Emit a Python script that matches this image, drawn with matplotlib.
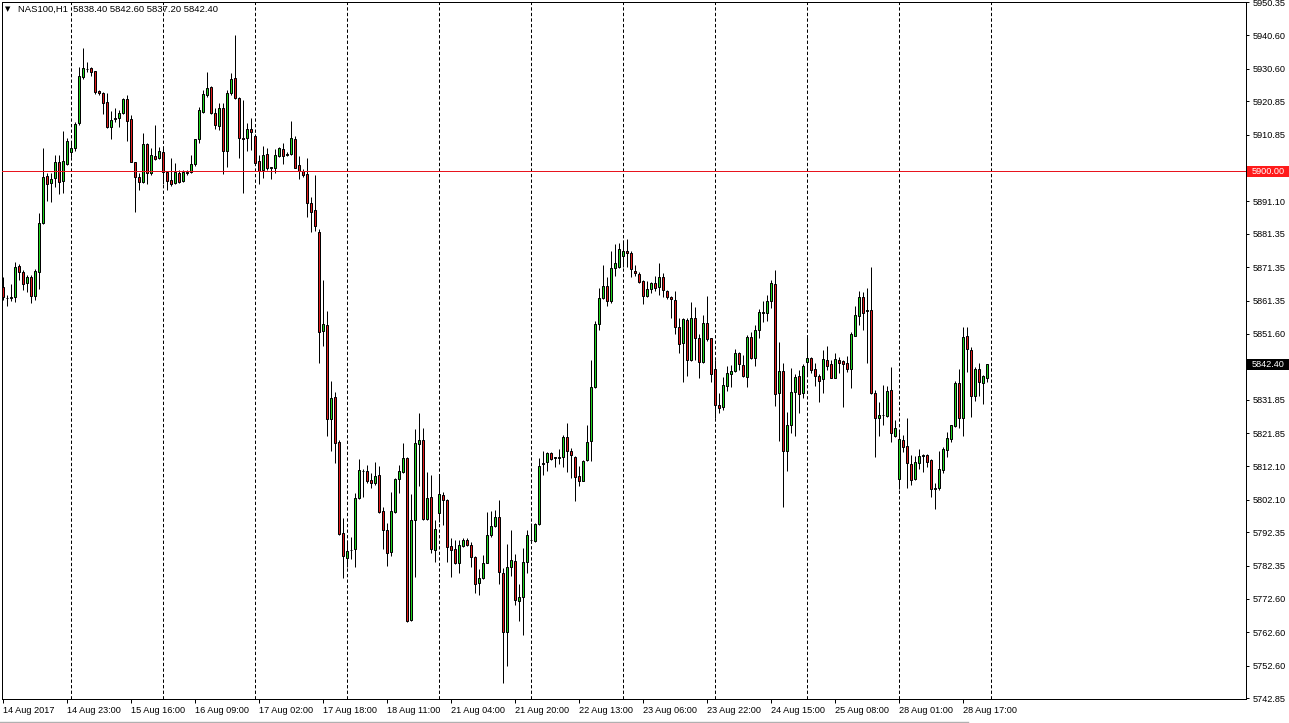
import matplotlib
matplotlib.use("Agg")
import matplotlib.pyplot as plt
import matplotlib.transforms as mtransforms
from matplotlib.patches import Rectangle
from matplotlib.lines import Line2D
import numpy as np

plt.rcParams['lines.scale_dashes'] = False
plt.rcParams['font.family'] = ['Liberation Sans', 'DejaVu Sans']

# ---------------- data (NAS100, H1) ----------------
opens = [5865.4, 5862.3, 5862.3, 5862.4, 5871.8, 5869.9, 5866.6, 5868.5, 5862.9, 5869.9,
         5884.5, 5898.6, 5896.4, 5897.9, 5902.7, 5897.0, 5902.1, 5905.9, 5906.9, 5914.3,
         5928.2, 5930.4, 5930.7, 5929.8, 5923.9, 5923.4, 5920.6, 5913.3, 5915.6, 5915.8,
         5917.5, 5921.5, 5915.5, 5902.9, 5898.2, 5896.9, 5908.0, 5899.4, 5904.6, 5903.9,
         5905.7, 5899.9, 5897.3, 5896.4, 5899.6, 5897.0, 5899.4, 5899.9, 5902.1, 5909.5,
         5917.8, 5922.6, 5925.0, 5917.3, 5913.6, 5918.8, 5906.2, 5923.3, 5927.7, 5921.8,
         5909.9, 5909.8, 5912.5, 5910.5, 5903.1, 5900.4, 5905.1, 5901.0, 5900.9, 5904.7,
         5906.7, 5905.0, 5905.1, 5909.6, 5901.9, 5900.1, 5899.1, 5890.4, 5888.5, 5882.0,
         5852.5, 5854.2, 5826.0, 5832.6, 5819.2, 5792.3, 5784.6, 5787.0, 5787.3, 5802.5,
         5810.5, 5810.6, 5808.0, 5807.2, 5809.4, 5798.7, 5793.2, 5786.4, 5798.5, 5808.4,
         5810.2, 5814.6, 5766.1, 5796.0, 5818.7, 5819.9, 5796.2, 5802.8, 5787.1, 5798.0,
         5803.5, 5802.0, 5788.3, 5787.3, 5783.1, 5788.4, 5790.1, 5788.6, 5784.9, 5777.3,
         5778.6, 5783.3, 5791.5, 5794.2, 5796.8, 5780.1, 5762.5, 5781.9, 5783.9, 5772.0,
         5773.0, 5783.6, 5790.0, 5789.9, 5794.7, 5812.7, 5813.2, 5815.9, 5814.5, 5814.5,
         5814.9, 5820.9, 5816.6, 5814.9, 5809.2, 5807.8, 5813.9, 5819.7, 5835.8, 5854.5,
         5862.3, 5865.9, 5861.4, 5871.1, 5871.4, 5874.7, 5876.3, 5875.5, 5870.4, 5869.3,
         5867.3, 5862.8, 5864.8, 5866.8, 5865.4, 5868.4, 5864.3, 5862.6, 5861.6, 5853.7,
         5848.7, 5855.7, 5843.7, 5856.2, 5850.2, 5843.0, 5854.7, 5850.2, 5841.0, 5830.3,
         5829.6, 5836.1, 5839.5, 5840.5, 5845.7, 5842.2, 5838.6, 5850.5, 5844.2, 5852.7,
         5857.9, 5857.9, 5861.3, 5866.4, 5833.8, 5840.5, 5816.7, 5824.4, 5834.1, 5839.0,
         5833.8, 5843.0, 5844.2, 5841.2, 5839.0, 5838.0, 5843.7, 5842.4, 5838.5, 5843.7,
         5843.4, 5842.7, 5841.2, 5851.0, 5857.0, 5862.4, 5858.3, 5858.6, 5833.8, 5826.3,
         5827.2, 5827.1, 5834.8, 5821.2, 5808.4, 5819.9, 5818.1, 5812.7, 5808.2, 5812.9,
         5815.1, 5815.4, 5813.9, 5805.4, 5805.5, 5810.9, 5816.9, 5820.1, 5824.0, 5837.0,
         5826.3, 5850.9, 5846.7, 5833.1, 5841.2, 5836.8, 5838.4]
highs = [5868.4, 5863.0, 5866.4, 5873.0, 5872.4, 5870.6, 5869.1, 5869.1, 5870.8, 5887.5,
         5907.0, 5899.4, 5899.4, 5904.9, 5904.9, 5912.1, 5909.8, 5908.8, 5914.8, 5931.0,
         5936.7, 5932.7, 5931.2, 5930.0, 5924.2, 5923.7, 5923.2, 5918.1, 5918.8, 5918.3,
         5921.8, 5922.7, 5916.8, 5902.9, 5899.4, 5911.3, 5908.3, 5906.9, 5913.8, 5907.1,
         5907.1, 5900.1, 5903.9, 5902.4, 5900.4, 5900.4, 5900.4, 5904.9, 5909.7, 5919.1,
         5924.3, 5929.7, 5925.4, 5918.8, 5920.3, 5920.3, 5924.3, 5929.2, 5940.7, 5922.3,
         5921.3, 5914.3, 5915.8, 5911.0, 5904.9, 5907.4, 5906.9, 5901.4, 5906.6, 5907.1,
         5908.3, 5905.9, 5915.0, 5910.5, 5904.6, 5900.6, 5904.1, 5892.4, 5898.9, 5882.7,
         5867.6, 5858.3, 5837.5, 5834.1, 5819.9, 5796.5, 5790.1, 5791.1, 5804.2, 5814.2,
         5811.1, 5812.4, 5810.1, 5813.4, 5812.1, 5800.0, 5795.2, 5804.5, 5808.7, 5812.4,
         5818.9, 5814.9, 5803.7, 5823.1, 5827.8, 5823.4, 5810.4, 5809.4, 5796.0, 5809.4,
         5804.5, 5802.2, 5790.6, 5790.1, 5790.1, 5790.6, 5790.6, 5789.6, 5785.3, 5781.3,
         5785.6, 5798.5, 5798.7, 5799.0, 5802.0, 5781.6, 5788.9, 5793.2, 5785.8, 5777.1,
         5787.6, 5793.0, 5795.0, 5795.0, 5814.4, 5816.6, 5816.2, 5816.2, 5814.9, 5817.1,
         5821.4, 5824.9, 5817.4, 5815.1, 5812.2, 5813.9, 5824.4, 5843.7, 5855.4, 5865.1,
         5872.1, 5868.4, 5876.2, 5878.3, 5878.5, 5879.5, 5879.7, 5876.3, 5872.1, 5869.9,
         5867.6, 5867.3, 5867.1, 5868.9, 5872.8, 5869.8, 5864.6, 5862.9, 5864.3, 5856.2,
         5856.2, 5856.2, 5861.1, 5859.4, 5851.5, 5857.2, 5862.8, 5850.4, 5843.7, 5834.0,
         5838.8, 5841.9, 5842.2, 5847.0, 5846.2, 5845.2, 5851.2, 5852.2, 5854.2, 5858.8,
         5861.4, 5863.1, 5867.6, 5870.6, 5849.2, 5842.9, 5828.3, 5841.3, 5839.6, 5840.8,
         5842.4, 5850.5, 5844.7, 5842.7, 5839.6, 5846.7, 5847.9, 5843.7, 5845.9, 5844.5,
         5843.7, 5844.9, 5852.2, 5859.8, 5864.3, 5864.1, 5865.3, 5871.6, 5834.8, 5831.1,
         5836.3, 5836.0, 5841.7, 5825.8, 5822.4, 5821.4, 5826.3, 5815.4, 5815.1, 5817.1,
         5815.7, 5815.7, 5814.1, 5807.2, 5816.6, 5817.7, 5822.4, 5824.5, 5837.6, 5841.0,
         5853.5, 5853.5, 5847.5, 5841.7, 5842.7, 5839.3, 5842.6]
lows = [5861.6, 5859.9, 5861.4, 5861.1, 5867.6, 5864.6, 5864.1, 5860.6, 5861.6, 5864.8,
        5884.3, 5891.1, 5890.9, 5895.4, 5893.1, 5893.4, 5901.9, 5904.4, 5906.2, 5913.8,
        5927.4, 5929.5, 5928.4, 5923.0, 5922.7, 5917.1, 5912.9, 5909.7, 5914.8, 5913.1,
        5917.1, 5909.1, 5902.7, 5888.0, 5894.4, 5896.4, 5896.2, 5898.9, 5903.4, 5903.6,
        5896.2, 5894.4, 5895.6, 5896.1, 5896.4, 5896.8, 5898.9, 5899.6, 5901.6, 5908.5,
        5917.3, 5922.3, 5917.1, 5912.5, 5912.3, 5899.2, 5901.4, 5922.8, 5921.6, 5903.9,
        5893.4, 5906.2, 5906.4, 5902.4, 5896.1, 5898.1, 5900.4, 5897.6, 5899.6, 5904.4,
        5902.2, 5904.6, 5904.9, 5900.9, 5897.6, 5898.4, 5886.3, 5882.0, 5882.3, 5842.7,
        5847.9, 5821.1, 5816.7, 5812.9, 5791.5, 5778.6, 5781.9, 5784.3, 5781.9, 5802.2,
        5803.0, 5807.2, 5805.5, 5806.5, 5798.2, 5787.3, 5782.3, 5785.3, 5798.0, 5804.0,
        5809.9, 5765.7, 5765.9, 5779.1, 5806.2, 5796.0, 5796.0, 5786.1, 5783.6, 5795.5,
        5794.5, 5783.6, 5779.1, 5782.9, 5780.1, 5788.1, 5788.2, 5781.9, 5774.4, 5773.7,
        5778.3, 5783.1, 5791.1, 5794.0, 5777.1, 5747.5, 5752.6, 5779.3, 5770.7, 5766.0,
        5761.7, 5780.3, 5789.6, 5789.6, 5794.5, 5809.6, 5810.7, 5813.9, 5811.7, 5812.7,
        5811.9, 5810.4, 5808.6, 5801.8, 5806.3, 5807.6, 5813.7, 5813.7, 5835.5, 5852.7,
        5861.9, 5859.8, 5860.8, 5868.8, 5871.1, 5871.6, 5871.6, 5868.6, 5868.9, 5866.6,
        5860.3, 5862.6, 5863.6, 5864.4, 5863.0, 5862.6, 5861.8, 5856.2, 5851.5, 5845.9,
        5837.3, 5839.1, 5843.5, 5843.7, 5838.3, 5842.9, 5849.5, 5837.3, 5826.3, 5827.8,
        5828.8, 5834.6, 5835.6, 5840.3, 5840.8, 5838.8, 5835.8, 5843.9, 5842.0, 5850.2,
        5855.2, 5855.5, 5859.1, 5830.1, 5819.7, 5799.8, 5810.7, 5822.1, 5821.2, 5828.0,
        5832.3, 5839.1, 5840.0, 5836.1, 5831.3, 5834.0, 5840.8, 5838.3, 5838.3, 5840.0,
        5829.6, 5840.3, 5835.5, 5850.8, 5854.2, 5852.7, 5842.9, 5833.6, 5814.7, 5821.2,
        5824.3, 5826.8, 5819.4, 5820.9, 5805.2, 5816.2, 5805.5, 5806.5, 5807.9, 5811.1,
        5810.4, 5811.9, 5802.8, 5799.2, 5805.0, 5810.1, 5814.7, 5819.4, 5823.8, 5823.4,
        5821.2, 5840.3, 5826.6, 5831.6, 5833.1, 5830.5, 5837.2]
closes = [5862.4, 5862.1, 5862.5, 5871.6, 5870.1, 5866.3, 5868.4, 5862.9, 5870.4, 5884.5,
          5898.2, 5896.1, 5897.6, 5902.7, 5896.9, 5903.0, 5908.9, 5906.9, 5914.0, 5928.4,
          5930.7, 5930.6, 5929.5, 5923.7, 5923.2, 5920.3, 5913.1, 5915.3, 5915.8, 5917.3,
          5921.5, 5915.1, 5902.9, 5898.4, 5896.9, 5908.0, 5899.4, 5904.8, 5903.7, 5906.0,
          5899.9, 5897.2, 5896.1, 5899.7, 5896.9, 5899.9, 5899.7, 5902.1, 5909.5, 5918.3,
          5923.0, 5924.7, 5917.3, 5913.7, 5918.8, 5906.2, 5923.3, 5927.4, 5921.8, 5909.8,
          5909.7, 5912.5, 5911.8, 5902.6, 5900.2, 5904.9, 5900.9, 5901.2, 5904.9, 5906.9,
          5904.7, 5905.1, 5909.8, 5901.1, 5900.2, 5898.8, 5890.5, 5888.0, 5883.8, 5852.2,
          5854.4, 5826.0, 5832.3, 5819.1, 5791.8, 5785.4, 5786.8, 5787.2, 5802.5, 5810.9,
          5810.7, 5807.8, 5807.2, 5809.1, 5798.5, 5793.2, 5786.3, 5798.7, 5808.4, 5810.6,
          5814.4, 5765.9, 5796.0, 5818.9, 5819.9, 5796.2, 5802.5, 5787.3, 5793.5, 5803.7,
          5802.0, 5787.9, 5787.1, 5783.3, 5788.6, 5790.1, 5788.6, 5784.9, 5777.1, 5778.6,
          5783.3, 5791.7, 5794.2, 5796.8, 5780.4, 5762.5, 5781.9, 5784.1, 5772.2, 5773.2,
          5783.4, 5791.6, 5790.2, 5794.7, 5812.2, 5812.9, 5815.9, 5814.1, 5814.7, 5814.7,
          5820.9, 5816.6, 5815.4, 5808.9, 5807.8, 5813.7, 5819.4, 5835.8, 5854.4, 5862.3,
          5865.9, 5861.4, 5871.1, 5872.6, 5876.7, 5876.3, 5875.5, 5870.8, 5869.6, 5866.9,
          5862.8, 5864.8, 5866.6, 5865.1, 5868.4, 5864.6, 5862.4, 5861.8, 5853.7, 5848.5,
          5855.9, 5843.7, 5856.2, 5850.2, 5843.2, 5854.7, 5849.9, 5839.5, 5830.3, 5829.3,
          5836.3, 5839.8, 5840.5, 5845.7, 5842.4, 5839.1, 5850.5, 5844.2, 5852.7, 5858.0,
          5858.1, 5861.3, 5866.8, 5833.5, 5840.5, 5816.6, 5824.4, 5834.1, 5838.8, 5833.5,
          5841.9, 5844.2, 5840.9, 5839.1, 5837.6, 5843.9, 5842.0, 5838.5, 5843.9, 5842.9,
          5842.5, 5841.2, 5851.4, 5857.2, 5862.4, 5857.9, 5858.5, 5833.8, 5826.3, 5827.3,
          5827.4, 5834.5, 5821.9, 5823.4, 5820.2, 5817.7, 5812.9, 5808.1, 5813.2, 5815.1,
          5815.3, 5813.4, 5805.2, 5805.6, 5811.2, 5817.1, 5820.4, 5824.3, 5837.0, 5826.3,
          5850.5, 5846.9, 5833.1, 5841.2, 5837.1, 5839.0, 5842.4]

time_labels = ["14 Aug 2017", "14 Aug 23:00", "15 Aug 16:00", "16 Aug 09:00", "17 Aug 02:00",
               "17 Aug 18:00", "18 Aug 11:00", "21 Aug 04:00", "21 Aug 20:00", "22 Aug 13:00",
               "23 Aug 06:00", "23 Aug 22:00", "24 Aug 15:00", "25 Aug 08:00", "28 Aug 01:00",
               "28 Aug 17:00"]
label_bars = [0, 16, 32, 48, 64, 80, 96, 112, 128, 144, 160, 176, 192, 208, 224, 240]
grid_bars = [17, 40, 63, 86, 109, 132, 155, 178, 201, 224, 247]

price_ticks = [5950.35, 5940.60, 5930.60, 5920.85, 5910.85, 5891.10, 5881.35, 5871.35,
               5861.35, 5851.60, 5831.85, 5821.85, 5812.10, 5802.10, 5792.35, 5782.35,
               5772.60, 5762.60, 5752.60, 5742.85]
level_price = 5900.00
last_price = 5842.40
symbol = "NAS100,H1"

# ---------------- figure ----------------
W, H = 1289, 723
fig = plt.figure(figsize=(W / 100, H / 100), dpi=100)
fig.patch.set_facecolor('white')
ax_l, ax_r, ax_t, ax_b = 2, 1246, 1.5, 699
ax = fig.add_axes([ax_l / W, (H - ax_b) / H, (ax_r - ax_l) / W, (ax_b - ax_t) / H])
ax.set_facecolor('white')

n = len(opens)
xs = np.arange(n)
o = np.array(opens); c = np.array(closes); hi = np.array(highs); lo = np.array(lows)
up = c >= o
GREEN = '#1ed41e'
RED = '#e01b1b'
px = 0.72  # one pixel in points

# wicks
ax.vlines(xs, lo, hi, color='black', lw=px, zorder=2)
# bodies
bottoms = np.minimum(o, c)
heights = np.abs(c - o)
colors = np.where(up, GREEN, RED)
ax.bar(xs, heights, width=0.5, bottom=bottoms, color=colors, edgecolor='black',
       linewidth=px, zorder=3)

# dotted vertical grid
for gb in grid_bars:
    ax.axvline(gb, color='black', lw=px, linestyle=(0, (2.4, 1.6)), zorder=1)

# 5900 level line
ax.axhline(level_price, color='#e8141e', lw=px, zorder=4)

# limits (4 px per bar, first bar at x=3.3 px)
ax.set_xlim((ax_l - 3.3) / 4, (ax_r - 3.3) / 4)
scale = 3.354  # px per point
ax.set_ylim(5900 - (ax_b - 171.3) / scale, 5900 + (171.3 - ax_t) / scale)

for s in ax.spines.values():
    s.set_color('black')
    s.set_linewidth(px)

# y axis on the right
ax.yaxis.tick_right()
ax.set_yticks(price_ticks)
ax.set_yticklabels([f"{v:.2f}" for v in price_ticks])
ax.tick_params(axis='y', direction='out', length=2.2, width=px, pad=2.6,
               labelsize=6.6, colors='black')

# x axis
ax.set_xticks(label_bars)
ax.set_xticklabels(time_labels)
ax.tick_params(axis='x', direction='out', length=2.9, width=px, pad=1.8,
               labelsize=6.6, colors='black')
for lbl in ax.get_xticklabels():
    lbl.set_horizontalalignment('left')

# price boxes on the right axis
bt = mtransforms.blended_transform_factory(ax.transAxes, ax.transData)
box_w = (W - ax_r) / (ax_r - ax_l)
box_h = 11 / scale
for price, fc in [(level_price, '#ff1a1a'), (last_price, 'black')]:
    ax.add_patch(Rectangle((1.0008, price - box_h / 2), box_w, box_h, transform=bt,
                           facecolor=fc, edgecolor='none', clip_on=False, zorder=5))
    ax.text(1.0 + 6 / (ax_r - ax_l), price, f"{price:.2f}", transform=bt, color='white',
            fontsize=6.6, va='center', ha='left', zorder=6, clip_on=False)

# header
fig.text(5 / W, 1 - 9.5 / H, "\u25BC", fontsize=5, color='black', va='center', ha='left',
         family=['DejaVu Sans'])
fig.text(18 / W, 1 - 9.5 / H,
         f"{symbol}  {opens[-1]:.2f} {highs[-1]:.2f} {lows[-1]:.2f} {closes[-1]:.2f}",
         fontsize=6.8, color='black', va='center', ha='left')

# bottom window edge
fig.add_artist(Line2D([0, 968 / W], [1.5 / H, 1.5 / H], color='#b0b0b0', lw=1.0))

fig.savefig("out.png", dpi=100, facecolor='white')
